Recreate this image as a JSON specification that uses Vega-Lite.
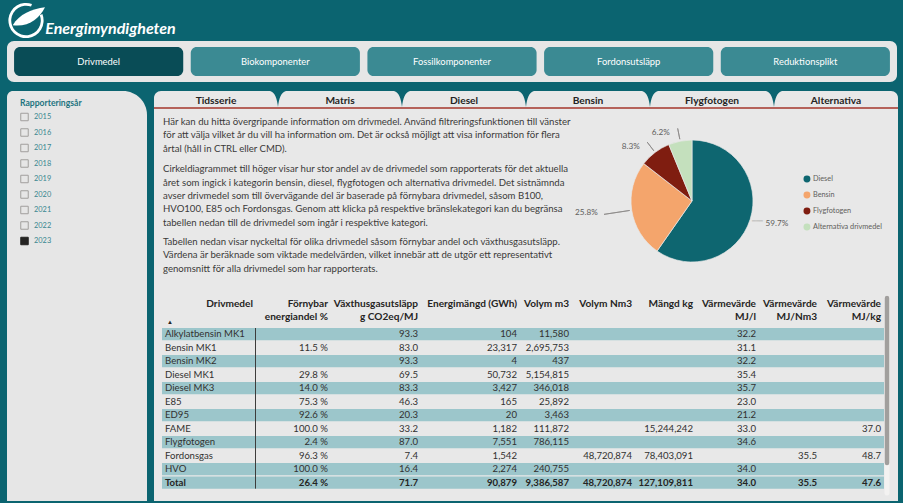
{
  "$schema": "https://vega.github.io/schema/vega-lite/v6.json",
  "background": "#0b6470",
  "padding": {"left": 7, "top": 0, "right": 6, "bottom": 3},
  "autosize": {"type": "pad"},
  "config": {
    "font": "Lato",
    "view": {"stroke": null},
    "concat": {"spacing": 0},
    "locale": {"number": {"decimal": ".", "thousands": ",", "grouping": [3], "currency": ["", " %"]}}
  },
  "datasets": {
    "logo": [{"namn": "Energimyndigheten"}],
    "knappar": [
      {"knapp": "Drivmedel"}, {"knapp": "Biokomponenter"}, {"knapp": "Fossilkomponenter"},
      {"knapp": "Fordonsutsläpp"}, {"knapp": "Reduktionsplikt"}
    ],
    "flikar": [
      {"flik": "Tidsserie"}, {"flik": "Matris"}, {"flik": "Diesel"},
      {"flik": "Bensin"}, {"flik": "Flygfotogen"}, {"flik": "Alternativa"}
    ],
    "ar": [
      {"ar": 2015}, {"ar": 2016}, {"ar": 2017}, {"ar": 2018}, {"ar": 2019},
      {"ar": 2020}, {"ar": 2021}, {"ar": 2022}, {"ar": 2023}
    ],
    "stycken": [
      {"stycke": 1, "text": "Här kan du hitta övergripande information om drivmedel. Använd filtreringsfunktionen till vänster\nför att välja vilket år du vill ha information om. Det är också möjligt att visa information för flera\nårtal (håll in CTRL eller CMD)."},
      {"stycke": 2, "text": "Cirkeldiagrammet till höger visar hur stor andel av de drivmedel som rapporterats för det aktuella\nåret som ingick i kategorin bensin, diesel, flygfotogen och alternativa drivmedel. Det sistnämnda\navser drivmedel som till övervägande del är baserade på förnybara drivmedel, såsom B100,\nHVO100, E85 och Fordonsgas. Genom att klicka på respektive bränslekategori kan du begränsa\ntabellen nedan till de drivmedel som ingår i respektive kategori."},
      {"stycke": 3, "text": "Tabellen nedan visar nyckeltal för olika drivmedel såsom förnybar andel och växthusgasutsläpp.\nVärdena är beräknade som viktade medelvärden, vilket innebär att de utgör ett representativt\ngenomsnitt för alla drivmedel som har rapporterats."}
    ],
    "cirkel": [
      {"kategori": "Diesel", "andel": 0.597},
      {"kategori": "Bensin", "andel": 0.258},
      {"kategori": "Flygfotogen", "andel": 0.083},
      {"kategori": "Alternativa drivmedel", "andel": 0.062}
    ],
    "tabell": [
      {"drivmedel": "Alkylatbensin MK1", "vaxthus": 93.3, "energi": 104, "volym_m3": 11580, "mj_l": 32.2},
      {"drivmedel": "Bensin MK1", "fornybar": 11.5, "vaxthus": 83.0, "energi": 23317, "volym_m3": 2695753, "mj_l": 31.1},
      {"drivmedel": "Bensin MK2", "vaxthus": 93.3, "energi": 4, "volym_m3": 437, "mj_l": 32.2},
      {"drivmedel": "Diesel MK1", "fornybar": 29.8, "vaxthus": 69.5, "energi": 50732, "volym_m3": 5154815, "mj_l": 35.4},
      {"drivmedel": "Diesel MK3", "fornybar": 14.0, "vaxthus": 83.3, "energi": 3427, "volym_m3": 346018, "mj_l": 35.7},
      {"drivmedel": "E85", "fornybar": 75.3, "vaxthus": 46.3, "energi": 165, "volym_m3": 25892, "mj_l": 23.0},
      {"drivmedel": "ED95", "fornybar": 92.6, "vaxthus": 20.3, "energi": 20, "volym_m3": 3463, "mj_l": 21.2},
      {"drivmedel": "FAME", "fornybar": 100.0, "vaxthus": 33.2, "energi": 1182, "volym_m3": 111872, "mangd_kg": 15244242, "mj_l": 33.0, "mj_kg": 37.0},
      {"drivmedel": "Flygfotogen", "fornybar": 2.4, "vaxthus": 87.0, "energi": 7551, "volym_m3": 786115, "mj_l": 34.6},
      {"drivmedel": "Fordonsgas", "fornybar": 96.3, "vaxthus": 7.4, "energi": 1542, "volym_nm3": 48720874, "mangd_kg": 78403091, "mj_nm3": 35.5, "mj_kg": 48.7},
      {"drivmedel": "HVO", "fornybar": 100.0, "vaxthus": 16.4, "energi": 2274, "volym_m3": 240755, "mj_l": 34.0},
      {"drivmedel": "Total", "fornybar": 26.4, "vaxthus": 71.7, "energi": 90879, "volym_m3": 9386587, "volym_nm3": 48720874, "mangd_kg": 127109811, "mj_l": 34.0, "mj_nm3": 35.5, "mj_kg": 47.6}
    ]
  },
  "vconcat": [
    {
      "vconcat": [
        {
          "hconcat": [
            {
              "width": 38, "height": 41,
              "data": {"name": "logo"},
              "layer": [
                {"mark": {"type": "arc", "innerRadius": 14.8, "outerRadius": 17.6, "theta": 1.2, "theta2": 6.63, "color": "#ffffff"}, "encoding": {}},
                {"mark": {"type": "point", "shape": "M-0.7,0.25 C-0.35,-0.35 0.3,-0.6 1,-0.7 C0.7,-0.1 0.15,0.35 -0.7,0.25 Z", "size": 1444, "filled": true, "color": "#ffffff", "opacity": 1}, "encoding": {}}
              ]
            },
            {
              "width": 131, "height": 41,
              "data": {"name": "logo"},
              "mark": {"type": "text", "fontSize": 16, "fontWeight": "bold", "fontStyle": "italic", "color": "#ffffff", "dy": 8},
              "encoding": {"text": {"field": "namn"}}
            }
          ],
          "spacing": 0, "bounds": "flush"
        },
        {
          "width": 890, "height": 41,
          "view": {"fill": "#e6e6e6", "cornerRadius": 7},
          "data": {"name": "knappar"},
          "encoding": {"x": {"field": "knapp", "type": "nominal", "sort": null, "scale": {"paddingInner": 0.0425, "paddingOuter": 0.04}, "axis": null}},
          "layer": [
            {
              "mark": {"type": "bar", "cornerRadius": 6},
              "encoding": {
                "y": {"datum": 0.146, "type": "quantitative", "scale": {"domain": [0, 1]}, "axis": null},
                "y2": {"datum": 0.854},
                "color": {"condition": {"test": "datum.knapp === 'Drivmedel'", "value": "#094c56"}, "value": "#3b8a93"}
              }
            },
            {"mark": {"type": "text", "fontSize": 9.4, "color": "#ffffff"}, "encoding": {"text": {"field": "knapp"}}}
          ]
        }
      ],
      "spacing": 0
    },
    {
      "hconcat": [
        {
          "width": 140, "height": 410,
          "data": {"name": "ar"},
          "layer": [
            {
              "transform": [{"filter": {"field": "ar", "equal": 2023}}],
              "mark": {"type": "rect", "color": "#e6e6e6", "cornerRadiusTopRight": 24, "cornerRadiusTopLeft": 6},
              "encoding": {
                "x": {"datum": 0, "type": "quantitative", "scale": {"domain": [0, 1]}, "axis": null},
                "x2": {"datum": 1},
                "y": {"datum": 0, "type": "quantitative", "scale": {"domain": [0, 1]}, "axis": null},
                "y2": {"datum": 1}
              }
            },
            {
              "transform": [{"filter": {"field": "ar", "equal": 2023}}],
              "mark": {"type": "text", "text": "Rapporteringsår", "align": "left", "fontWeight": "bold", "fontSize": 8.6, "color": "#1d7480", "dx": 13},
              "encoding": {
                "x": {"datum": 0, "type": "quantitative", "scale": {"domain": [0, 1]}, "axis": null},
                "y": {"datum": 0.9707, "type": "quantitative", "scale": {"domain": [0, 1]}, "axis": null}
              }
            },
            {
              "mark": {"type": "point", "shape": "square", "size": 56, "filled": true, "strokeWidth": 1, "opacity": 1},
              "encoding": {
                "x": {"datum": 0.125, "type": "quantitative", "scale": {"domain": [0, 1]}, "axis": null},
                "y": {"field": "ar", "type": "ordinal", "scale": {"type": "point", "range": [26, 150], "padding": 0}, "axis": null},
                "fill": {"condition": {"test": "datum.ar === 2023", "value": "#252423"}, "value": "transparent"},
                "stroke": {"condition": {"test": "datum.ar === 2023", "value": "#252423"}, "value": "#a19f9d"}
              }
            },
            {
              "mark": {"type": "text", "align": "left", "fontSize": 7.4, "color": "#3a8690"},
              "encoding": {
                "x": {"datum": 0.193, "type": "quantitative", "scale": {"domain": [0, 1]}, "axis": null},
                "y": {"field": "ar", "type": "ordinal", "scale": {"type": "point", "range": [26, 150], "padding": 0}, "axis": null},
                "text": {"field": "ar", "type": "ordinal"}
              }
            }
          ],
          "resolve": {"scale": {"y": "independent"}}
        },
        {
          "vconcat": [
            {
              "width": 744, "height": 18,
              "data": {"name": "flikar"},
              "layer": [
                {
                  "mark": {"type": "bar", "color": "#e8e8e8", "cornerRadiusTopLeft": 7, "cornerRadiusTopRight": 7},
                  "encoding": {
                    "x": {"field": "flik", "type": "nominal", "sort": null, "scale": {"paddingInner": 0, "paddingOuter": 0}, "axis": null},
                    "y": {"datum": 0, "type": "quantitative", "scale": {"domain": [0, 1]}, "axis": null},
                    "y2": {"datum": 1}
                  }
                },
                {
                  "transform": [{"filter": {"not": {"field": "flik", "equal": "Alternativa"}}}],
                  "mark": {"type": "point", "shape": "M-1,-1 C-0.35,-0.85 -0.12,0 0,1 C0.12,0 0.35,-0.85 1,-1 Z", "size": 256, "filled": true, "color": "#0b6470", "opacity": 1},
                  "encoding": {
                    "x": {"field": "flik", "type": "nominal", "sort": null, "bandPosition": 1},
                    "y": {"datum": 0.556, "type": "quantitative"}
                  }
                },
                {
                  "mark": {"type": "text", "fontSize": 10.2, "fontWeight": "bold", "color": "#252423", "dy": 1},
                  "encoding": {"x": {"field": "flik", "type": "nominal", "sort": null}, "text": {"field": "flik"}}
                },
                {
                  "transform": [{"filter": {"field": "flik", "equal": "Tidsserie"}}],
                  "mark": {"type": "rule", "color": "#a5362b", "strokeWidth": 1.5},
                  "encoding": {"y": {"datum": 0.05, "type": "quantitative"}}
                }
              ]
            },
            {
              "hconcat": [
                {
                  "width": 430, "height": 184,
                  "view": {"fill": "#e8e8e8"},
                  "data": {"name": "stycken"},
                  "encoding": {
                    "x": {"datum": 0, "type": "quantitative", "scale": {"domain": [0, 1]}, "axis": null},
                    "y": {"field": "stycke", "type": "ordinal", "scale": {"type": "point", "domain": [1, 2, 3], "range": [13, 133], "padding": 0}, "axis": null},
                    "text": {"field": "text"}
                  },
                  "layer": [
                    {
                      "transform": [{"filter": {"field": "stycke", "oneOf": [1, 3]}}],
                      "mark": {"type": "text", "align": "left", "baseline": "middle", "lineBreak": "\n", "lineHeight": 13.4, "fontSize": 9.6, "color": "#3b3a39", "dx": 9}
                    },
                    {
                      "transform": [{"filter": {"field": "stycke", "equal": 2}}],
                      "mark": {"type": "text", "align": "left", "baseline": "middle", "lineBreak": "\n", "lineHeight": 13.4, "fontSize": 9.6, "color": "#3b3a39", "dx": 9, "dy": -12.7}
                    }
                  ]
                },
                {
                  "width": 216, "height": 184,
                  "view": {"fill": "#e8e8e8"},
                  "data": {"name": "cirkel"},
                  "encoding": {
                    "theta": {"field": "andel", "type": "quantitative", "stack": true},
                    "order": {"field": "andel", "type": "quantitative", "sort": "descending"}
                  },
                  "layer": [
                    {
                      "mark": {"type": "arc", "outerRadius": 61, "stroke": "#e8e8e8", "strokeWidth": 0.7},
                      "encoding": {"color": {"field": "kategori", "type": "nominal", "scale": {"domain": ["Diesel", "Bensin", "Flygfotogen", "Alternativa drivmedel"], "range": ["#0e6670", "#f4a56c", "#7f1d10", "#c4e0bd"]}, "legend": null}}
                    },
                    {
                      "mark": {"type": "arc", "innerRadius": 63, "outerRadius": 74, "padAngle": 3, "fill": "transparent", "stroke": "#8a8886", "strokeWidth": 0.8},
                      "encoding": {"strokeOpacity": {"condition": {"test": "datum.kategori === 'Flygfotogen' || datum.kategori === 'Alternativa drivmedel'", "value": 1}, "value": 0}}
                    },
                    {
                      "mark": {"type": "arc", "innerRadius": 63, "outerRadius": 89, "padAngle": 3, "fill": "transparent", "stroke": "#8a8886", "strokeWidth": 0.8},
                      "encoding": {"strokeOpacity": {"condition": {"test": "datum.kategori === 'Bensin'", "value": 1}, "value": 0}}
                    },
                    {
                      "mark": {"type": "text", "text": "───", "radius": 63, "align": "left", "font": "DejaVu Sans", "fontSize": 6, "color": "#8a8886", "dy": 1},
                      "encoding": {"opacity": {"condition": {"test": "datum.kategori === 'Diesel'", "value": 1}, "value": 0}}
                    },
                    {
                      "mark": {"type": "text", "radius": 77, "align": "left", "fontSize": 8.2, "color": "#605e5c"},
                      "encoding": {"text": {"field": "andel", "type": "quantitative", "format": ".1%"}, "opacity": {"condition": {"test": "datum.kategori === 'Diesel'", "value": 1}, "value": 0}}
                    },
                    {
                      "mark": {"type": "text", "radius": 73, "align": "right", "dx": -22, "dy": 1, "fontSize": 8.2, "color": "#605e5c"},
                      "encoding": {"text": {"field": "andel", "type": "quantitative", "format": ".1%"}, "opacity": {"condition": {"test": "datum.kategori === 'Bensin'", "value": 1}, "value": 0}}
                    },
                    {
                      "mark": {"type": "text", "radius": 73, "align": "right", "dx": -8, "dy": 4, "fontSize": 8.2, "color": "#605e5c"},
                      "encoding": {"text": {"field": "andel", "type": "quantitative", "format": ".1%"}, "opacity": {"condition": {"test": "datum.kategori === 'Flygfotogen' || datum.kategori === 'Alternativa drivmedel'", "value": 1}, "value": 0}}
                    }
                  ]
                },
                {
                  "width": 98, "height": 184,
                  "view": {"fill": "#e8e8e8"},
                  "data": {"name": "cirkel"},
                  "encoding": {"y": {"field": "kategori", "type": "nominal", "scale": {"type": "point", "domain": ["Diesel", "Bensin", "Flygfotogen", "Alternativa drivmedel"], "range": [70, 118], "padding": 0}, "axis": null}},
                  "layer": [
                    {
                      "mark": {"type": "circle", "size": 48, "opacity": 1},
                      "encoding": {
                        "x": {"datum": 0.071, "type": "quantitative", "scale": {"domain": [0, 1]}, "axis": null},
                        "color": {"field": "kategori", "type": "nominal", "scale": {"domain": ["Diesel", "Bensin", "Flygfotogen", "Alternativa drivmedel"], "range": ["#0e6670", "#f4a56c", "#7f1d10", "#c4e0bd"]}, "legend": null}
                      }
                    },
                    {
                      "mark": {"type": "text", "align": "left", "fontSize": 7.3, "color": "#605e5c"},
                      "encoding": {
                        "x": {"datum": 0.133, "type": "quantitative", "scale": {"domain": [0, 1]}, "axis": null},
                        "text": {"field": "kategori"}
                      }
                    }
                  ]
                }
              ],
              "spacing": 0, "bounds": "flush"
            },
            {
              "hconcat": [
                {
                  "width": 8, "height": 208,
                  "view": {"fill": "#e8e8e8"},
                  "data": {"name": "tabell"},
                  "mark": {"type": "point", "opacity": 0}
                },
                {
                  "width": 94, "height": 208,
                  "view": {"fill": "#e8e8e8"},
                  "data": {"name": "tabell"},
                  "encoding": {
                    "y": {"field": "drivmedel", "type": "nominal", "scale": {"domain": ["Alkylatbensin MK1", "Bensin MK1", "Bensin MK2", "Diesel MK1", "Diesel MK3", "E85", "ED95", "FAME", "Flygfotogen", "Fordonsgas", "HVO", "Total"], "range": [35, 195.65], "paddingInner": 0.1, "paddingOuter": 0}, "axis": null},
                    "x": {"datum": 1, "type": "quantitative", "scale": {"domain": [0, 1]}, "axis": null}
                  },
                  "layer": [
                    {"transform": [{"filter": {"field": "drivmedel", "oneOf": ["Alkylatbensin MK1", "Bensin MK2", "Diesel MK3", "ED95", "Flygfotogen", "HVO", "Total"]}}], "mark": {"type": "rect", "color": "#9cc6cb"}, "encoding": {"x": {"datum": 0, "type": "quantitative"}, "x2": {"datum": 1}}},
                    {"transform": [{"filter": {"not": {"field": "drivmedel", "equal": "Total"}}}], "mark": {"type": "text", "align": "left", "dx": 3, "fontSize": 9.6, "color": "#323130"}, "encoding": {"x": {"datum": 0, "type": "quantitative"}, "text": {"field": "drivmedel"}}},
                    {"transform": [{"filter": {"field": "drivmedel", "equal": "Total"}}], "mark": {"type": "text", "align": "left", "dx": 3, "fontSize": 9.6, "fontWeight": "bold", "color": "#252423"}, "encoding": {"x": {"datum": 0, "type": "quantitative"}, "text": {"field": "drivmedel"}}},
                    {"transform": [{"filter": {"field": "drivmedel", "equal": "Total"}}], "mark": {"type": "text", "align": "right", "baseline": "top", "dx": -3, "dy": -35, "fontSize": 10.1, "fontWeight": "bold", "color": "#252423", "text": "Drivmedel"}, "encoding": {"y": {"datum": "Alkylatbensin MK1"}}},
                    {"transform": [{"filter": {"field": "drivmedel", "equal": "Total"}}], "mark": {"type": "text", "align": "left", "dx": 5, "dy": -12, "fontSize": 6, "color": "#252423", "text": "▲"}, "encoding": {"x": {"datum": 0, "type": "quantitative"}, "y": {"datum": "Alkylatbensin MK1"}}},
                    {"transform": [{"filter": {"field": "drivmedel", "equal": "Total"}}], "mark": {"type": "rule", "color": "#3b3a39", "strokeWidth": 1}, "encoding": {"x": {"datum": 0.995, "type": "quantitative"}, "y": {"datum": "Alkylatbensin MK1", "bandPosition": 0}, "y2": {"datum": "Total", "bandPosition": 1}}}
                  ]
                },
                {
                  "width": 75, "height": 208,
                  "view": {"fill": "#e8e8e8"},
                  "data": {"name": "tabell"},
                  "encoding": {
                    "y": {"field": "drivmedel", "type": "nominal", "scale": {"domain": ["Alkylatbensin MK1", "Bensin MK1", "Bensin MK2", "Diesel MK1", "Diesel MK3", "E85", "ED95", "FAME", "Flygfotogen", "Fordonsgas", "HVO", "Total"], "range": [35, 195.65], "paddingInner": 0.1, "paddingOuter": 0}, "axis": null},
                    "x": {"datum": 1, "type": "quantitative", "scale": {"domain": [0, 1]}, "axis": null}
                  },
                  "layer": [
                    {"transform": [{"filter": {"field": "drivmedel", "oneOf": ["Alkylatbensin MK1", "Bensin MK2", "Diesel MK3", "ED95", "Flygfotogen", "HVO", "Total"]}}], "mark": {"type": "rect", "color": "#9cc6cb"}, "encoding": {"x": {"datum": 0, "type": "quantitative"}, "x2": {"datum": 1}}},
                    {"transform": [{"filter": {"not": {"field": "drivmedel", "equal": "Total"}}}, {"filter": {"field": "fornybar", "valid": true}}], "mark": {"type": "text", "align": "right", "dx": -3, "fontSize": 9.6, "color": "#323130"}, "encoding": {"text": {"field": "fornybar", "type": "quantitative", "format": "$.1f"}}},
                    {"transform": [{"filter": {"field": "drivmedel", "equal": "Total"}}], "mark": {"type": "text", "align": "right", "dx": -3, "fontSize": 9.6, "fontWeight": "bold", "color": "#252423"}, "encoding": {"text": {"field": "fornybar", "type": "quantitative", "format": "$.1f"}}},
                    {"transform": [{"filter": {"field": "drivmedel", "equal": "Total"}}], "mark": {"type": "text", "align": "right", "baseline": "top", "dx": -3, "dy": -35, "lineHeight": 13, "fontSize": 10.1, "fontWeight": "bold", "color": "#252423", "text": ["Förnybar", "energiandel %"]}, "encoding": {"y": {"datum": "Alkylatbensin MK1"}}}
                  ]
                },
                {
                  "width": 90, "height": 208,
                  "view": {"fill": "#e8e8e8"},
                  "data": {"name": "tabell"},
                  "encoding": {
                    "y": {"field": "drivmedel", "type": "nominal", "scale": {"domain": ["Alkylatbensin MK1", "Bensin MK1", "Bensin MK2", "Diesel MK1", "Diesel MK3", "E85", "ED95", "FAME", "Flygfotogen", "Fordonsgas", "HVO", "Total"], "range": [35, 195.65], "paddingInner": 0.1, "paddingOuter": 0}, "axis": null},
                    "x": {"datum": 1, "type": "quantitative", "scale": {"domain": [0, 1]}, "axis": null}
                  },
                  "layer": [
                    {"transform": [{"filter": {"field": "drivmedel", "oneOf": ["Alkylatbensin MK1", "Bensin MK2", "Diesel MK3", "ED95", "Flygfotogen", "HVO", "Total"]}}], "mark": {"type": "rect", "color": "#9cc6cb"}, "encoding": {"x": {"datum": 0, "type": "quantitative"}, "x2": {"datum": 1}}},
                    {"transform": [{"filter": {"not": {"field": "drivmedel", "equal": "Total"}}}, {"filter": {"field": "vaxthus", "valid": true}}], "mark": {"type": "text", "align": "right", "dx": -3, "fontSize": 9.6, "color": "#323130"}, "encoding": {"text": {"field": "vaxthus", "type": "quantitative", "format": ".1f"}}},
                    {"transform": [{"filter": {"field": "drivmedel", "equal": "Total"}}], "mark": {"type": "text", "align": "right", "dx": -3, "fontSize": 9.6, "fontWeight": "bold", "color": "#252423"}, "encoding": {"text": {"field": "vaxthus", "type": "quantitative", "format": ".1f"}}},
                    {"transform": [{"filter": {"field": "drivmedel", "equal": "Total"}}], "mark": {"type": "text", "align": "right", "baseline": "top", "dx": -3, "dy": -35, "lineHeight": 13, "fontSize": 10.1, "fontWeight": "bold", "color": "#252423", "text": ["Växthusgasutsläpp", "g CO2eq/MJ"]}, "encoding": {"y": {"datum": "Alkylatbensin MK1"}}}
                  ]
                },
                {
                  "width": 99, "height": 208,
                  "view": {"fill": "#e8e8e8"},
                  "data": {"name": "tabell"},
                  "encoding": {
                    "y": {"field": "drivmedel", "type": "nominal", "scale": {"domain": ["Alkylatbensin MK1", "Bensin MK1", "Bensin MK2", "Diesel MK1", "Diesel MK3", "E85", "ED95", "FAME", "Flygfotogen", "Fordonsgas", "HVO", "Total"], "range": [35, 195.65], "paddingInner": 0.1, "paddingOuter": 0}, "axis": null},
                    "x": {"datum": 1, "type": "quantitative", "scale": {"domain": [0, 1]}, "axis": null}
                  },
                  "layer": [
                    {"transform": [{"filter": {"field": "drivmedel", "oneOf": ["Alkylatbensin MK1", "Bensin MK2", "Diesel MK3", "ED95", "Flygfotogen", "HVO", "Total"]}}], "mark": {"type": "rect", "color": "#9cc6cb"}, "encoding": {"x": {"datum": 0, "type": "quantitative"}, "x2": {"datum": 1}}},
                    {"transform": [{"filter": {"not": {"field": "drivmedel", "equal": "Total"}}}, {"filter": {"field": "energi", "valid": true}}], "mark": {"type": "text", "align": "right", "dx": -3, "fontSize": 9.6, "color": "#323130"}, "encoding": {"text": {"field": "energi", "type": "quantitative", "format": ",.0f"}}},
                    {"transform": [{"filter": {"field": "drivmedel", "equal": "Total"}}], "mark": {"type": "text", "align": "right", "dx": -3, "fontSize": 9.6, "fontWeight": "bold", "color": "#252423"}, "encoding": {"text": {"field": "energi", "type": "quantitative", "format": ",.0f"}}},
                    {"transform": [{"filter": {"field": "drivmedel", "equal": "Total"}}], "mark": {"type": "text", "align": "right", "baseline": "top", "dx": -3, "dy": -35, "lineHeight": 13, "fontSize": 10.1, "fontWeight": "bold", "color": "#252423", "text": "Energimängd (GWh)"}, "encoding": {"y": {"datum": "Alkylatbensin MK1"}}}
                  ]
                },
                {
                  "width": 52, "height": 208,
                  "view": {"fill": "#e8e8e8"},
                  "data": {"name": "tabell"},
                  "encoding": {
                    "y": {"field": "drivmedel", "type": "nominal", "scale": {"domain": ["Alkylatbensin MK1", "Bensin MK1", "Bensin MK2", "Diesel MK1", "Diesel MK3", "E85", "ED95", "FAME", "Flygfotogen", "Fordonsgas", "HVO", "Total"], "range": [35, 195.65], "paddingInner": 0.1, "paddingOuter": 0}, "axis": null},
                    "x": {"datum": 1, "type": "quantitative", "scale": {"domain": [0, 1]}, "axis": null}
                  },
                  "layer": [
                    {"transform": [{"filter": {"field": "drivmedel", "oneOf": ["Alkylatbensin MK1", "Bensin MK2", "Diesel MK3", "ED95", "Flygfotogen", "HVO", "Total"]}}], "mark": {"type": "rect", "color": "#9cc6cb"}, "encoding": {"x": {"datum": 0, "type": "quantitative"}, "x2": {"datum": 1}}},
                    {"transform": [{"filter": {"not": {"field": "drivmedel", "equal": "Total"}}}, {"filter": {"field": "volym_m3", "valid": true}}], "mark": {"type": "text", "align": "right", "dx": -3, "fontSize": 9.6, "color": "#323130"}, "encoding": {"text": {"field": "volym_m3", "type": "quantitative", "format": ",.0f"}}},
                    {"transform": [{"filter": {"field": "drivmedel", "equal": "Total"}}], "mark": {"type": "text", "align": "right", "dx": -3, "fontSize": 9.6, "fontWeight": "bold", "color": "#252423"}, "encoding": {"text": {"field": "volym_m3", "type": "quantitative", "format": ",.0f"}}},
                    {"transform": [{"filter": {"field": "drivmedel", "equal": "Total"}}], "mark": {"type": "text", "align": "right", "baseline": "top", "dx": -3, "dy": -35, "lineHeight": 13, "fontSize": 10.1, "fontWeight": "bold", "color": "#252423", "text": "Volym m3"}, "encoding": {"y": {"datum": "Alkylatbensin MK1"}}}
                  ]
                },
                {
                  "width": 63, "height": 208,
                  "view": {"fill": "#e8e8e8"},
                  "data": {"name": "tabell"},
                  "encoding": {
                    "y": {"field": "drivmedel", "type": "nominal", "scale": {"domain": ["Alkylatbensin MK1", "Bensin MK1", "Bensin MK2", "Diesel MK1", "Diesel MK3", "E85", "ED95", "FAME", "Flygfotogen", "Fordonsgas", "HVO", "Total"], "range": [35, 195.65], "paddingInner": 0.1, "paddingOuter": 0}, "axis": null},
                    "x": {"datum": 1, "type": "quantitative", "scale": {"domain": [0, 1]}, "axis": null}
                  },
                  "layer": [
                    {"transform": [{"filter": {"field": "drivmedel", "oneOf": ["Alkylatbensin MK1", "Bensin MK2", "Diesel MK3", "ED95", "Flygfotogen", "HVO", "Total"]}}], "mark": {"type": "rect", "color": "#9cc6cb"}, "encoding": {"x": {"datum": 0, "type": "quantitative"}, "x2": {"datum": 1}}},
                    {"transform": [{"filter": {"not": {"field": "drivmedel", "equal": "Total"}}}, {"filter": {"field": "volym_nm3", "valid": true}}], "mark": {"type": "text", "align": "right", "dx": -3, "fontSize": 9.6, "color": "#323130"}, "encoding": {"text": {"field": "volym_nm3", "type": "quantitative", "format": ",.0f"}}},
                    {"transform": [{"filter": {"field": "drivmedel", "equal": "Total"}}], "mark": {"type": "text", "align": "right", "dx": -3, "fontSize": 9.6, "fontWeight": "bold", "color": "#252423"}, "encoding": {"text": {"field": "volym_nm3", "type": "quantitative", "format": ",.0f"}}},
                    {"transform": [{"filter": {"field": "drivmedel", "equal": "Total"}}], "mark": {"type": "text", "align": "right", "baseline": "top", "dx": -3, "dy": -35, "lineHeight": 13, "fontSize": 10.1, "fontWeight": "bold", "color": "#252423", "text": "Volym Nm3"}, "encoding": {"y": {"datum": "Alkylatbensin MK1"}}}
                  ]
                },
                {
                  "width": 61, "height": 208,
                  "view": {"fill": "#e8e8e8"},
                  "data": {"name": "tabell"},
                  "encoding": {
                    "y": {"field": "drivmedel", "type": "nominal", "scale": {"domain": ["Alkylatbensin MK1", "Bensin MK1", "Bensin MK2", "Diesel MK1", "Diesel MK3", "E85", "ED95", "FAME", "Flygfotogen", "Fordonsgas", "HVO", "Total"], "range": [35, 195.65], "paddingInner": 0.1, "paddingOuter": 0}, "axis": null},
                    "x": {"datum": 1, "type": "quantitative", "scale": {"domain": [0, 1]}, "axis": null}
                  },
                  "layer": [
                    {"transform": [{"filter": {"field": "drivmedel", "oneOf": ["Alkylatbensin MK1", "Bensin MK2", "Diesel MK3", "ED95", "Flygfotogen", "HVO", "Total"]}}], "mark": {"type": "rect", "color": "#9cc6cb"}, "encoding": {"x": {"datum": 0, "type": "quantitative"}, "x2": {"datum": 1}}},
                    {"transform": [{"filter": {"not": {"field": "drivmedel", "equal": "Total"}}}, {"filter": {"field": "mangd_kg", "valid": true}}], "mark": {"type": "text", "align": "right", "dx": -3, "fontSize": 9.6, "color": "#323130"}, "encoding": {"text": {"field": "mangd_kg", "type": "quantitative", "format": ",.0f"}}},
                    {"transform": [{"filter": {"field": "drivmedel", "equal": "Total"}}], "mark": {"type": "text", "align": "right", "dx": -3, "fontSize": 9.6, "fontWeight": "bold", "color": "#252423"}, "encoding": {"text": {"field": "mangd_kg", "type": "quantitative", "format": ",.0f"}}},
                    {"transform": [{"filter": {"field": "drivmedel", "equal": "Total"}}], "mark": {"type": "text", "align": "right", "baseline": "top", "dx": -3, "dy": -35, "lineHeight": 13, "fontSize": 10.1, "fontWeight": "bold", "color": "#252423", "text": "Mängd kg"}, "encoding": {"y": {"datum": "Alkylatbensin MK1"}}}
                  ]
                },
                {
                  "width": 63, "height": 208,
                  "view": {"fill": "#e8e8e8"},
                  "data": {"name": "tabell"},
                  "encoding": {
                    "y": {"field": "drivmedel", "type": "nominal", "scale": {"domain": ["Alkylatbensin MK1", "Bensin MK1", "Bensin MK2", "Diesel MK1", "Diesel MK3", "E85", "ED95", "FAME", "Flygfotogen", "Fordonsgas", "HVO", "Total"], "range": [35, 195.65], "paddingInner": 0.1, "paddingOuter": 0}, "axis": null},
                    "x": {"datum": 1, "type": "quantitative", "scale": {"domain": [0, 1]}, "axis": null}
                  },
                  "layer": [
                    {"transform": [{"filter": {"field": "drivmedel", "oneOf": ["Alkylatbensin MK1", "Bensin MK2", "Diesel MK3", "ED95", "Flygfotogen", "HVO", "Total"]}}], "mark": {"type": "rect", "color": "#9cc6cb"}, "encoding": {"x": {"datum": 0, "type": "quantitative"}, "x2": {"datum": 1}}},
                    {"transform": [{"filter": {"not": {"field": "drivmedel", "equal": "Total"}}}, {"filter": {"field": "mj_l", "valid": true}}], "mark": {"type": "text", "align": "right", "dx": -3, "fontSize": 9.6, "color": "#323130"}, "encoding": {"text": {"field": "mj_l", "type": "quantitative", "format": ".1f"}}},
                    {"transform": [{"filter": {"field": "drivmedel", "equal": "Total"}}], "mark": {"type": "text", "align": "right", "dx": -3, "fontSize": 9.6, "fontWeight": "bold", "color": "#252423"}, "encoding": {"text": {"field": "mj_l", "type": "quantitative", "format": ".1f"}}},
                    {"transform": [{"filter": {"field": "drivmedel", "equal": "Total"}}], "mark": {"type": "text", "align": "right", "baseline": "top", "dx": -3, "dy": -35, "lineHeight": 13, "fontSize": 10.1, "fontWeight": "bold", "color": "#252423", "text": ["Värmevärde", "MJ/l"]}, "encoding": {"y": {"datum": "Alkylatbensin MK1"}}}
                  ]
                },
                {
                  "width": 61, "height": 208,
                  "view": {"fill": "#e8e8e8"},
                  "data": {"name": "tabell"},
                  "encoding": {
                    "y": {"field": "drivmedel", "type": "nominal", "scale": {"domain": ["Alkylatbensin MK1", "Bensin MK1", "Bensin MK2", "Diesel MK1", "Diesel MK3", "E85", "ED95", "FAME", "Flygfotogen", "Fordonsgas", "HVO", "Total"], "range": [35, 195.65], "paddingInner": 0.1, "paddingOuter": 0}, "axis": null},
                    "x": {"datum": 1, "type": "quantitative", "scale": {"domain": [0, 1]}, "axis": null}
                  },
                  "layer": [
                    {"transform": [{"filter": {"field": "drivmedel", "oneOf": ["Alkylatbensin MK1", "Bensin MK2", "Diesel MK3", "ED95", "Flygfotogen", "HVO", "Total"]}}], "mark": {"type": "rect", "color": "#9cc6cb"}, "encoding": {"x": {"datum": 0, "type": "quantitative"}, "x2": {"datum": 1}}},
                    {"transform": [{"filter": {"not": {"field": "drivmedel", "equal": "Total"}}}, {"filter": {"field": "mj_nm3", "valid": true}}], "mark": {"type": "text", "align": "right", "dx": -3, "fontSize": 9.6, "color": "#323130"}, "encoding": {"text": {"field": "mj_nm3", "type": "quantitative", "format": ".1f"}}},
                    {"transform": [{"filter": {"field": "drivmedel", "equal": "Total"}}], "mark": {"type": "text", "align": "right", "dx": -3, "fontSize": 9.6, "fontWeight": "bold", "color": "#252423"}, "encoding": {"text": {"field": "mj_nm3", "type": "quantitative", "format": ".1f"}}},
                    {"transform": [{"filter": {"field": "drivmedel", "equal": "Total"}}], "mark": {"type": "text", "align": "right", "baseline": "top", "dx": -3, "dy": -35, "lineHeight": 13, "fontSize": 10.1, "fontWeight": "bold", "color": "#252423", "text": ["Värmevärde", "MJ/Nm3"]}, "encoding": {"y": {"datum": "Alkylatbensin MK1"}}}
                  ]
                },
                {
                  "width": 64, "height": 208,
                  "view": {"fill": "#e8e8e8"},
                  "data": {"name": "tabell"},
                  "encoding": {
                    "y": {"field": "drivmedel", "type": "nominal", "scale": {"domain": ["Alkylatbensin MK1", "Bensin MK1", "Bensin MK2", "Diesel MK1", "Diesel MK3", "E85", "ED95", "FAME", "Flygfotogen", "Fordonsgas", "HVO", "Total"], "range": [35, 195.65], "paddingInner": 0.1, "paddingOuter": 0}, "axis": null},
                    "x": {"datum": 1, "type": "quantitative", "scale": {"domain": [0, 1]}, "axis": null}
                  },
                  "layer": [
                    {"transform": [{"filter": {"field": "drivmedel", "oneOf": ["Alkylatbensin MK1", "Bensin MK2", "Diesel MK3", "ED95", "Flygfotogen", "HVO", "Total"]}}], "mark": {"type": "rect", "color": "#9cc6cb"}, "encoding": {"x": {"datum": 0, "type": "quantitative"}, "x2": {"datum": 1}}},
                    {"transform": [{"filter": {"not": {"field": "drivmedel", "equal": "Total"}}}, {"filter": {"field": "mj_kg", "valid": true}}], "mark": {"type": "text", "align": "right", "dx": -3, "fontSize": 9.6, "color": "#323130"}, "encoding": {"text": {"field": "mj_kg", "type": "quantitative", "format": ".1f"}}},
                    {"transform": [{"filter": {"field": "drivmedel", "equal": "Total"}}], "mark": {"type": "text", "align": "right", "dx": -3, "fontSize": 9.6, "fontWeight": "bold", "color": "#252423"}, "encoding": {"text": {"field": "mj_kg", "type": "quantitative", "format": ".1f"}}},
                    {"transform": [{"filter": {"field": "drivmedel", "equal": "Total"}}], "mark": {"type": "text", "align": "right", "baseline": "top", "dx": -3, "dy": -35, "lineHeight": 13, "fontSize": 10.1, "fontWeight": "bold", "color": "#252423", "text": ["Värmevärde", "MJ/kg"]}, "encoding": {"y": {"datum": "Alkylatbensin MK1"}}}
                  ]
                },
                {
                  "width": 14, "height": 208,
                  "view": {"fill": "#e8e8e8"},
                  "data": {"name": "tabell"},
                  "transform": [{"filter": {"field": "drivmedel", "equal": "Total"}}],
                  "encoding": {"x": {"datum": 0.214, "type": "quantitative", "scale": {"domain": [0, 1]}, "axis": null}},
                  "layer": [
                    {"mark": {"type": "rule", "color": "#f3f2f1", "strokeWidth": 5, "strokeCap": "round"}, "encoding": {"y": {"datum": 0.976, "type": "quantitative", "scale": {"domain": [0, 1]}, "axis": null}, "y2": {"datum": 0.038}}},
                    {"mark": {"type": "rule", "color": "#a19f9d", "strokeWidth": 4.5, "strokeCap": "round"}, "encoding": {"y": {"datum": 0.976, "type": "quantitative", "scale": {"domain": [0, 1]}, "axis": null}, "y2": {"datum": 0.183}}}
                  ]
                }
              ],
              "spacing": 0, "bounds": "flush"
            }
          ],
          "spacing": 0
        }
      ],
      "spacing": 6
    }
  ],
  "spacing": 8
}
